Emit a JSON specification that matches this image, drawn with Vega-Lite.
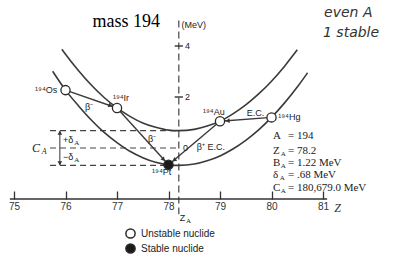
{
  "$schema": "https://vega.github.io/schema/vega-lite/v6.json",
  "width": 393,
  "height": 199,
  "autosize": {"type": "none"},
  "padding": {"left": 0, "top": 0, "right": 0, "bottom": 59},
  "background": "white",
  "view": {"stroke": null},
  "config": {"font": "Liberation Sans"},
  "datasets": {
    "curves": [
      {"curve": "even-even", "Z": 75.75, "E": 3.01},
      {"curve": "even-even", "Z": 76.0, "E": 2.27},
      {"curve": "even-even", "Z": 76.25, "E": 1.66},
      {"curve": "even-even", "Z": 76.5, "E": 1.10},
      {"curve": "even-even", "Z": 76.75, "E": 0.61},
      {"curve": "even-even", "Z": 77.0, "E": 0.21},
      {"curve": "even-even", "Z": 77.25, "E": -0.13},
      {"curve": "even-even", "Z": 77.5, "E": -0.38},
      {"curve": "even-even", "Z": 77.75, "E": -0.56},
      {"curve": "even-even", "Z": 78.0, "E": -0.66},
      {"curve": "even-even", "Z": 78.2, "E": -0.68},
      {"curve": "even-even", "Z": 78.5, "E": -0.63},
      {"curve": "even-even", "Z": 78.75, "E": -0.50},
      {"curve": "even-even", "Z": 79.0, "E": -0.31},
      {"curve": "even-even", "Z": 79.25, "E": -0.04},
      {"curve": "even-even", "Z": 79.5, "E": 0.30},
      {"curve": "even-even", "Z": 79.75, "E": 0.71},
      {"curve": "even-even", "Z": 80.0, "E": 1.20},
      {"curve": "even-even", "Z": 80.25, "E": 1.76},
      {"curve": "even-even", "Z": 80.5, "E": 2.39},
      {"curve": "even-even", "Z": 80.7, "E": 2.95},
      {"curve": "odd-odd", "Z": 75.93, "E": 3.87},
      {"curve": "odd-odd", "Z": 76.0, "E": 3.68},
      {"curve": "odd-odd", "Z": 76.25, "E": 3.04},
      {"curve": "odd-odd", "Z": 76.5, "E": 2.47},
      {"curve": "odd-odd", "Z": 76.75, "E": 1.98},
      {"curve": "odd-odd", "Z": 77.0, "E": 1.57},
      {"curve": "odd-odd", "Z": 77.25, "E": 1.24},
      {"curve": "odd-odd", "Z": 77.5, "E": 0.98},
      {"curve": "odd-odd", "Z": 77.75, "E": 0.81},
      {"curve": "odd-odd", "Z": 78.0, "E": 0.70},
      {"curve": "odd-odd", "Z": 78.2, "E": 0.68},
      {"curve": "odd-odd", "Z": 78.5, "E": 0.73},
      {"curve": "odd-odd", "Z": 78.75, "E": 0.86},
      {"curve": "odd-odd", "Z": 79.0, "E": 1.05},
      {"curve": "odd-odd", "Z": 79.25, "E": 1.34},
      {"curve": "odd-odd", "Z": 79.5, "E": 1.69},
      {"curve": "odd-odd", "Z": 79.75, "E": 2.12},
      {"curve": "odd-odd", "Z": 80.0, "E": 2.62},
      {"curve": "odd-odd", "Z": 80.25, "E": 3.20},
      {"curve": "odd-odd", "Z": 80.5, "E": 3.85}
    ],
    "decays": [
      {"path": "Os-Ir", "Z": 76, "E": 2.27},
      {"path": "Os-Ir", "Z": 77, "E": 1.57},
      {"path": "Ir-Pt", "Z": 77, "E": 1.57},
      {"path": "Ir-Pt", "Z": 78, "E": -0.66},
      {"path": "Hg-Au", "Z": 80, "E": 1.20},
      {"path": "Hg-Au", "Z": 79, "E": 1.05},
      {"path": "Au-Pt", "Z": 79, "E": 1.05},
      {"path": "Au-Pt", "Z": 78, "E": -0.66}
    ],
    "nuclides": [
      {"name": "Os", "Z": 76, "E": 2.27, "status": "Unstable nuclide"},
      {"name": "Ir", "Z": 77, "E": 1.57, "status": "Unstable nuclide"},
      {"name": "Pt", "Z": 78, "E": -0.66, "status": "Stable nuclide"},
      {"name": "Au", "Z": 79, "E": 1.05, "status": "Unstable nuclide"},
      {"name": "Hg", "Z": 80, "E": 1.20, "status": "Unstable nuclide"}
    ],
    "arrows": [
      {"Z": 76.86, "E": 1.67, "heading": 109},
      {"Z": 77.895, "E": -0.43, "heading": 138},
      {"Z": 79.16, "E": 1.07, "heading": 266},
      {"Z": 78.12, "E": -0.46, "heading": 230},
      {"Z": 75.89, "E": 0.57, "heading": 0},
      {"Z": 75.89, "E": -0.57, "heading": 180}
    ],
    "levels": [
      {"Z": 75.70, "Z2": 78.2, "E": 0.68},
      {"Z": 75.70, "Z2": 78.2, "E": 0.0},
      {"Z": 75.70, "Z2": 77.95, "E": -0.68}
    ],
    "zaxis": [
      {"Z": 78.2, "E": 5.0, "E2": -2.6}
    ],
    "bracket": [
      {"Z": 75.89, "E": 0.68, "E2": -0.68}
    ],
    "eticks": [
      {"Z": 78.12, "Z2": 78.28, "E": 4},
      {"Z": 78.12, "Z2": 78.28, "E": 2},
      {"Z": 74.92, "Z2": 81.08, "E": -2}
    ],
    "notes": [
      {"text": "¹⁹⁴Os", "Z": 75.41, "E": 2.27},
      {"text": "¹⁹⁴Ir", "Z": 76.92, "E": 1.96},
      {"text": "¹⁹⁴Au", "Z": 78.67, "E": 1.41},
      {"text": "¹⁹⁴Hg", "Z": 80.13, "E": 1.22},
      {"text": "¹⁹⁴Pt", "Z": 77.68, "E": -0.94},
      {"text": "β⁻", "Z": 76.38, "E": 1.61},
      {"text": "β⁻", "Z": 77.60, "E": 0.35},
      {"text": "E.C.", "Z": 79.52, "E": 1.37},
      {"text": "β⁺ E.C.", "Z": 78.55, "E": 0.04},
      {"text": "0", "Z": 78.28, "E": 0.0},
      {"text": "4", "Z": 78.32, "E": 4},
      {"text": "2", "Z": 78.32, "E": 2},
      {"text": "(MeV)", "Z": 78.25, "E": 4.82},
      {"text": "+δ", "Z": 75.95, "E": 0.31},
      {"text": "−δ", "Z": 75.95, "E": -0.35},
      {"text": "Z", "Z": 78.22, "E": -2.75}
    ],
    "block": [
      {"text": "A", "Z": 80.03, "E": 0.47},
      {"text": "= 194", "Z": 80.32, "E": 0.47},
      {"text": "Z", "Z": 80.03, "E": -0.12},
      {"text": "= 78.2", "Z": 80.32, "E": -0.12},
      {"text": "B", "Z": 80.03, "E": -0.59},
      {"text": "= 1.22 MeV", "Z": 80.32, "E": -0.59},
      {"text": "δ", "Z": 80.03, "E": -1.06},
      {"text": "= .68 MeV", "Z": 80.32, "E": -1.06},
      {"text": "C", "Z": 80.03, "E": -1.57},
      {"text": "= 180,679.0 MeV", "Z": 80.32, "E": -1.57}
    ],
    "subs": [
      {"text": "A", "Z": 80.18, "E": -0.12},
      {"text": "A", "Z": 80.18, "E": -0.59},
      {"text": "A", "Z": 80.16, "E": -1.06},
      {"text": "A", "Z": 80.18, "E": -1.57},
      {"text": "A", "Z": 76.17, "E": 0.31},
      {"text": "A", "Z": 76.17, "E": -0.35},
      {"text": "A", "Z": 78.34, "E": -2.75}
    ],
    "bigC": [
      {"text": "C", "Z": 75.35, "E": 0.0}
    ],
    "bigCsub": [
      {"text": "A", "Z": 75.54, "E": -0.15}
    ],
    "title": [
      {"text": "mass 194", "Z": 77.18, "E": 4.94}
    ],
    "hand": [
      {"text": "even A", "Z": 81.02, "E": 5.29},
      {"text": "1  stable", "Z": 81.0, "E": 4.51}
    ]
  },
  "encoding": {
    "x": {
      "field": "Z", "type": "quantitative",
      "scale": {"domain": [74.728, 82.359], "nice": false, "zero": false},
      "axis": {
        "values": [75, 76, 77, 78, 79, 80, 81],
        "tickSize": -8, "tickWidth": 1.3, "tickColor": "#333",
        "domain": false, "grid": false,
        "labelFontSize": 10, "labelColor": "#333", "labelPadding": 10,
        "labelFont": "Liberation Sans",
        "title": "Z", "titleFontStyle": "italic", "titleFont": "Liberation Serif",
        "titleFontSize": 12, "titleFontWeight": "normal", "titleColor": "#333",
        "titleX": 337, "titleY": 8, "titleBaseline": "middle", "titleAlign": "center"
      }
    },
    "y": {
      "field": "E", "type": "quantitative",
      "scale": {"domain": [-2, 5.804], "nice": false, "zero": false},
      "axis": null
    }
  },
  "layer": [
    {
      "data": {"name": "levels"},
      "mark": {"type": "rule", "strokeDash": [6, 4], "strokeWidth": 1.2, "color": "#444"},
      "encoding": {"x2": {"field": "Z2"}}
    },
    {
      "data": {"name": "zaxis"},
      "mark": {"type": "rule", "strokeDash": [7, 4], "strokeWidth": 1.2, "color": "#444"},
      "encoding": {"y2": {"field": "E2"}}
    },
    {
      "data": {"name": "bracket"},
      "mark": {"type": "rule", "strokeWidth": 1.1, "color": "#444"},
      "encoding": {"y2": {"field": "E2"}}
    },
    {
      "data": {"name": "eticks"},
      "mark": {"type": "rule", "strokeWidth": 1.4, "color": "#333"},
      "encoding": {"x2": {"field": "Z2"}}
    },
    {
      "data": {"name": "curves"},
      "mark": {"type": "line", "interpolate": "monotone", "strokeWidth": 1.6, "color": "#3a3a3a"},
      "encoding": {"detail": {"field": "curve"}}
    },
    {
      "data": {"name": "decays"},
      "mark": {"type": "line", "strokeWidth": 1.4, "color": "#3a3a3a"},
      "encoding": {"detail": {"field": "path"}}
    },
    {
      "data": {"name": "arrows"},
      "mark": {"type": "point", "shape": "triangle", "filled": true, "size": 22, "color": "#333", "opacity": 1},
      "encoding": {"angle": {"field": "heading", "type": "quantitative", "scale": null}}
    },
    {
      "data": {"name": "nuclides"},
      "mark": {"type": "point", "shape": "circle", "filled": true, "size": 85, "stroke": "#2a2a2a", "strokeWidth": 1.3, "opacity": 1},
      "encoding": {
        "fill": {
          "field": "status", "type": "nominal",
          "scale": {"domain": ["Unstable nuclide", "Stable nuclide"], "range": ["white", "#1a1a1a"]},
          "legend": {
            "orient": "none", "legendX": 125, "legendY": 228, "title": null,
            "padding": 0, "rowPadding": -2, "labelFontSize": 10, "labelFont": "Liberation Sans",
            "labelColor": "#222", "symbolSize": 85, "symbolType": "circle", "labelOffset": 5,
            "symbolOpacity": 1,
            "encode": {"symbols": {"update": {"stroke": {"value": "#2a2a2a"}, "strokeWidth": {"value": 1.3}}}}
          }
        }
      }
    },
    {
      "data": {"name": "notes"},
      "mark": {"type": "text", "align": "left", "baseline": "middle", "fontSize": 9, "color": "#222", "font": "Liberation Sans"},
      "encoding": {"text": {"field": "text"}}
    },
    {
      "data": {"name": "block"},
      "mark": {"type": "text", "align": "left", "baseline": "middle", "fontSize": 11, "color": "#222", "font": "Liberation Serif"},
      "encoding": {"text": {"field": "text"}}
    },
    {
      "data": {"name": "subs"},
      "mark": {"type": "text", "align": "left", "baseline": "middle", "dy": 3, "fontSize": 7, "color": "#222", "font": "Liberation Serif"},
      "encoding": {"text": {"field": "text"}}
    },
    {
      "data": {"name": "bigC"},
      "mark": {"type": "text", "align": "left", "baseline": "middle", "fontSize": 12, "fontStyle": "italic", "color": "#222", "font": "Liberation Serif"},
      "encoding": {"text": {"field": "text"}}
    },
    {
      "data": {"name": "bigCsub"},
      "mark": {"type": "text", "align": "left", "baseline": "middle", "fontSize": 8, "fontStyle": "italic", "color": "#222", "font": "Liberation Serif"},
      "encoding": {"text": {"field": "text"}}
    },
    {
      "data": {"name": "title"},
      "mark": {"type": "text", "align": "center", "baseline": "middle", "fontSize": 18, "color": "#000", "font": "Liberation Serif"},
      "encoding": {"text": {"field": "text"}}
    },
    {
      "data": {"name": "hand"},
      "mark": {"type": "text", "align": "left", "baseline": "middle", "fontSize": 14, "fontStyle": "italic", "color": "#333", "font": "DejaVu Sans"},
      "encoding": {"text": {"field": "text"}}
    }
  ]
}
